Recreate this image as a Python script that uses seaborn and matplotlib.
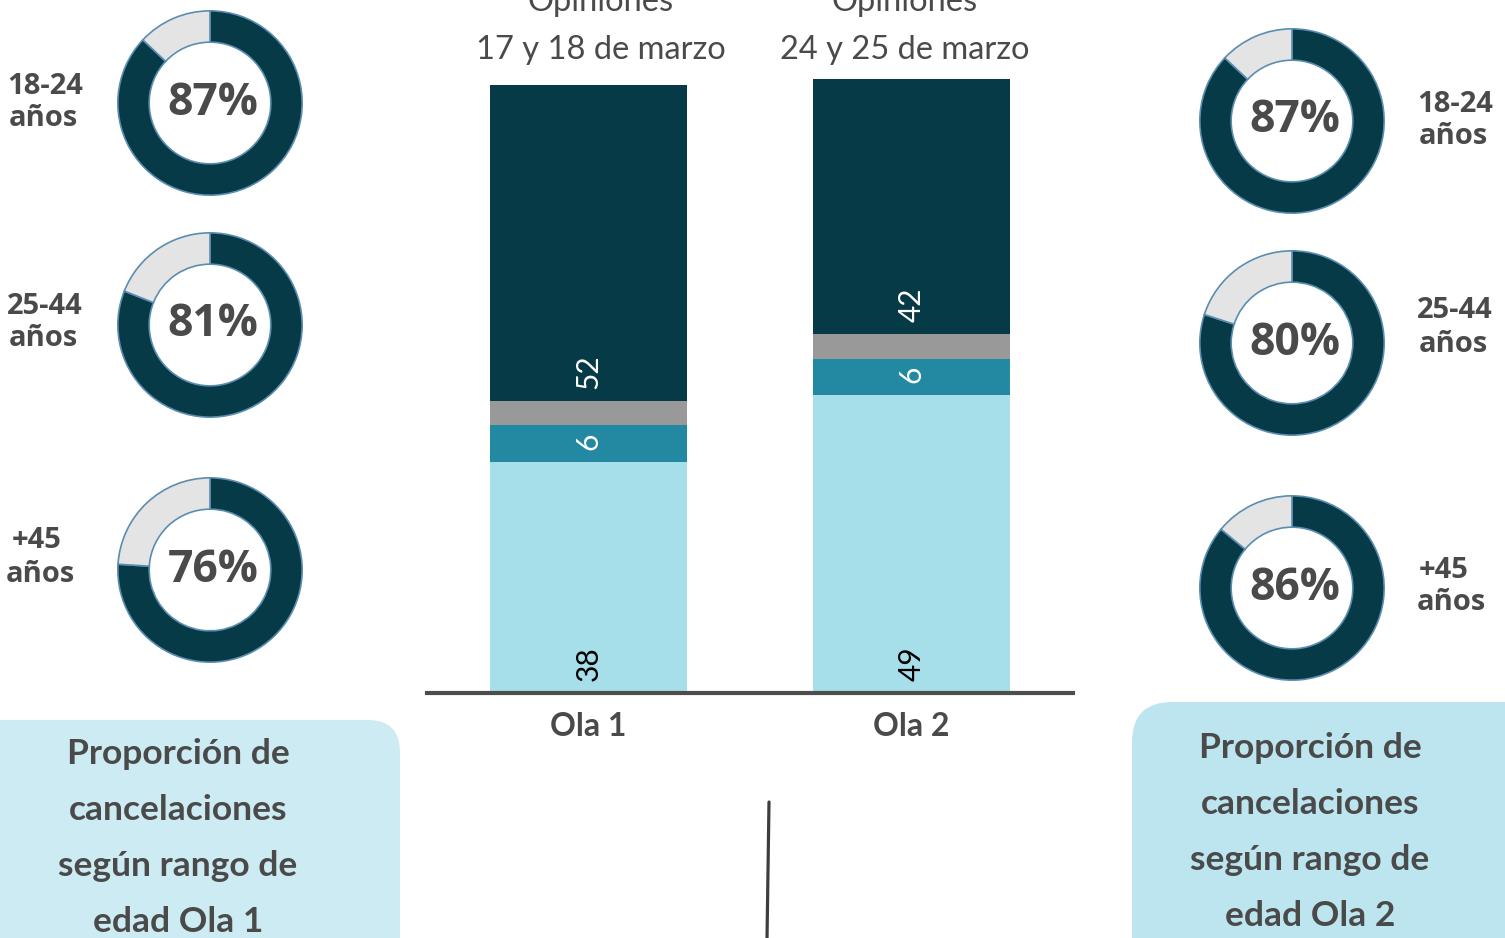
import matplotlib
matplotlib.use("Agg")
import matplotlib.pyplot as plt
import seaborn as sns
import pandas as pd
from matplotlib.patches import FancyBboxPatch
from matplotlib.lines import Line2D

# --- data ---
olas = ["Ola 1", "Ola 2"]
fechas = ["17 y 18 de marzo", "24 y 25 de marzo"]
seg_claro = [38, 49]
seg_turquesa = [6, 6]
seg_gris = [4, 4]
seg_oscuro = [52, 42]
rangos = ["18-24", "25-44", "+45"]
pct_ola1 = [87, 81, 76]
pct_ola2 = [87, 80, 86]

C_CLARO = "#a6dee9"
C_TURQ = "#2389a3"
C_GRIS = "#999999"
C_OSC = "#063a47"
C_TXT = "#4a4a4a"

sns.set_style("white")
plt.rcParams["font.family"] = ["Lato", "DejaVu Sans"]

W, H = 1505, 938
fig = plt.figure(figsize=(W / 100, H / 100), dpi=100)

# background layer in pixel coordinates
bg = fig.add_axes([0, 0, 1, 1], zorder=0)
bg.set_xlim(0, W)
bg.set_ylim(H, 0)
bg.axis("off")

# --- stacked bars ---
df = pd.DataFrame({"ola": olas, "claro": seg_claro, "turq": seg_turquesa,
                   "gris": seg_gris, "osc": seg_oscuro})
df["c1"] = df["claro"]
df["c2"] = df["c1"] + df["turq"]
df["c3"] = df["c2"] + df["gris"]
df["c4"] = df["c3"] + df["osc"]

px_unit = 6.08
ymax = 104
ax = fig.add_axes([427 / W, (H - 693) / H, 646 / W, ymax * px_unit / H], zorder=2)
ax.patch.set_alpha(0)
for col, color in [("c4", C_OSC), ("c3", C_GRIS), ("c2", C_TURQ), ("c1", C_CLARO)]:
    sns.barplot(data=df, x="ola", y=col, color=color, saturation=1, width=0.613,
                linewidth=0, ax=ax)
ax.set_xlim(-0.5, 1.5)
ax.set_ylim(0, ymax)
ax.set_xlabel("")
ax.set_ylabel("")
ax.set_yticks([])
for s in ["top", "left", "right"]:
    ax.spines[s].set_visible(False)
ax.spines["bottom"].set_color("#4d4d4d")
ax.spines["bottom"].set_linewidth(3)
ax.tick_params(axis="x", length=0, pad=14)
for lbl in ax.get_xticklabels():
    lbl.set_fontsize(23)
    lbl.set_fontweight("bold")
    lbl.set_color(C_TXT)

# value labels at inside base of each segment
for i in range(len(olas)):
    for base, val, color in [(0, df["claro"][i], "black"),
                             (df["c2"][i] - df["turq"][i], df["turq"][i], "white"),
                             (df["c3"][i], df["osc"][i], "white")]:
        ax.text(i, base + 2.0, f"{val}", rotation=90, ha="center", va="bottom",
                fontsize=21.5, color=color)

# column headers
for cx, fecha in zip([601, 905], fechas):
    bg.text(cx, 2, "Opiniones", ha="center", va="center", fontsize=23.5, color=C_TXT)
    bg.text(cx, 50, fecha, ha="center", va="center", fontsize=23.5, color=C_TXT)

# --- donuts ---
def donut(cx, cy, pct):
    r = 94
    dax = fig.add_axes([(cx - r) / W, (H - cy - r) / H, 2 * r / W, 2 * r / H], zorder=2)
    dax.pie([pct, 100 - pct], colors=[C_OSC, "#e4e4e4"], startangle=90,
            counterclock=False, radius=1,
            wedgeprops=dict(width=0.34, edgecolor="#5b8db0", linewidth=1.2))
    dax.set_xlim(-1.02, 1.02)
    dax.set_ylim(-1.02, 1.02)
    dax.text(0.03, 0, f"{pct}%", ha="center", va="center", fontsize=32,
             fontweight="bold", color=C_TXT, family=["Open Sans", "DejaVu Sans"])

left_cy = [103, 325, 570]
right_cy = [121, 343, 588]
for cy, p in zip(left_cy, pct_ola1):
    donut(210, cy, p)
for cy, p in zip(right_cy, pct_ola2):
    donut(1292, cy, p)

# age labels
left_lab = [(45, 86), (45, 307), (37, 541)]
left_anos = [(43, 118), (43, 339), (40, 574)]
right_lab = [(1455, 104), (1455, 311), (1444, 571)]
right_anos = [(1453, 136), (1453, 344), (1451, 603)]
for rng, a, b, c, d in zip(rangos, left_lab, left_anos, right_lab, right_anos):
    for (x, y), txt in [(a, rng), (b, "años"), (c, rng), (d, "años")]:
        bg.text(x, y, txt, ha="center", va="center", fontsize=21, fontweight="bold",
                color=C_TXT, family=["Open Sans", "DejaVu Sans"])

# --- bottom boxes ---
bg.add_patch(FancyBboxPatch((-40, 720), 440, 260, boxstyle="round,pad=0,rounding_size=32",
                            facecolor="#cdebf3", edgecolor="none"))
bg.add_patch(FancyBboxPatch((1132, 702), 420, 280, boxstyle="round,pad=0,rounding_size=40",
                            facecolor="#bde5ef", edgecolor="none"))
lineas1 = ["Proporción de", "cancelaciones", "según rango de", "edad Ola 1"]
lineas2 = ["Proporción de", "cancelaciones", "según rango de", "edad Ola 2"]
for k, (t1, t2) in enumerate(zip(lineas1, lineas2)):
    bg.text(178, 754 + 56 * k, t1, ha="center", va="center", fontsize=25.5,
            fontweight="bold", color=C_TXT)
    bg.text(1310, 748 + 56 * k, t2, ha="center", va="center", fontsize=25.5,
            fontweight="bold", color=C_TXT)

bg.add_line(Line2D([769, 767], [802, 940], color="#3d3d3d", linewidth=2.3))

fig.savefig("out.png", dpi=100)
